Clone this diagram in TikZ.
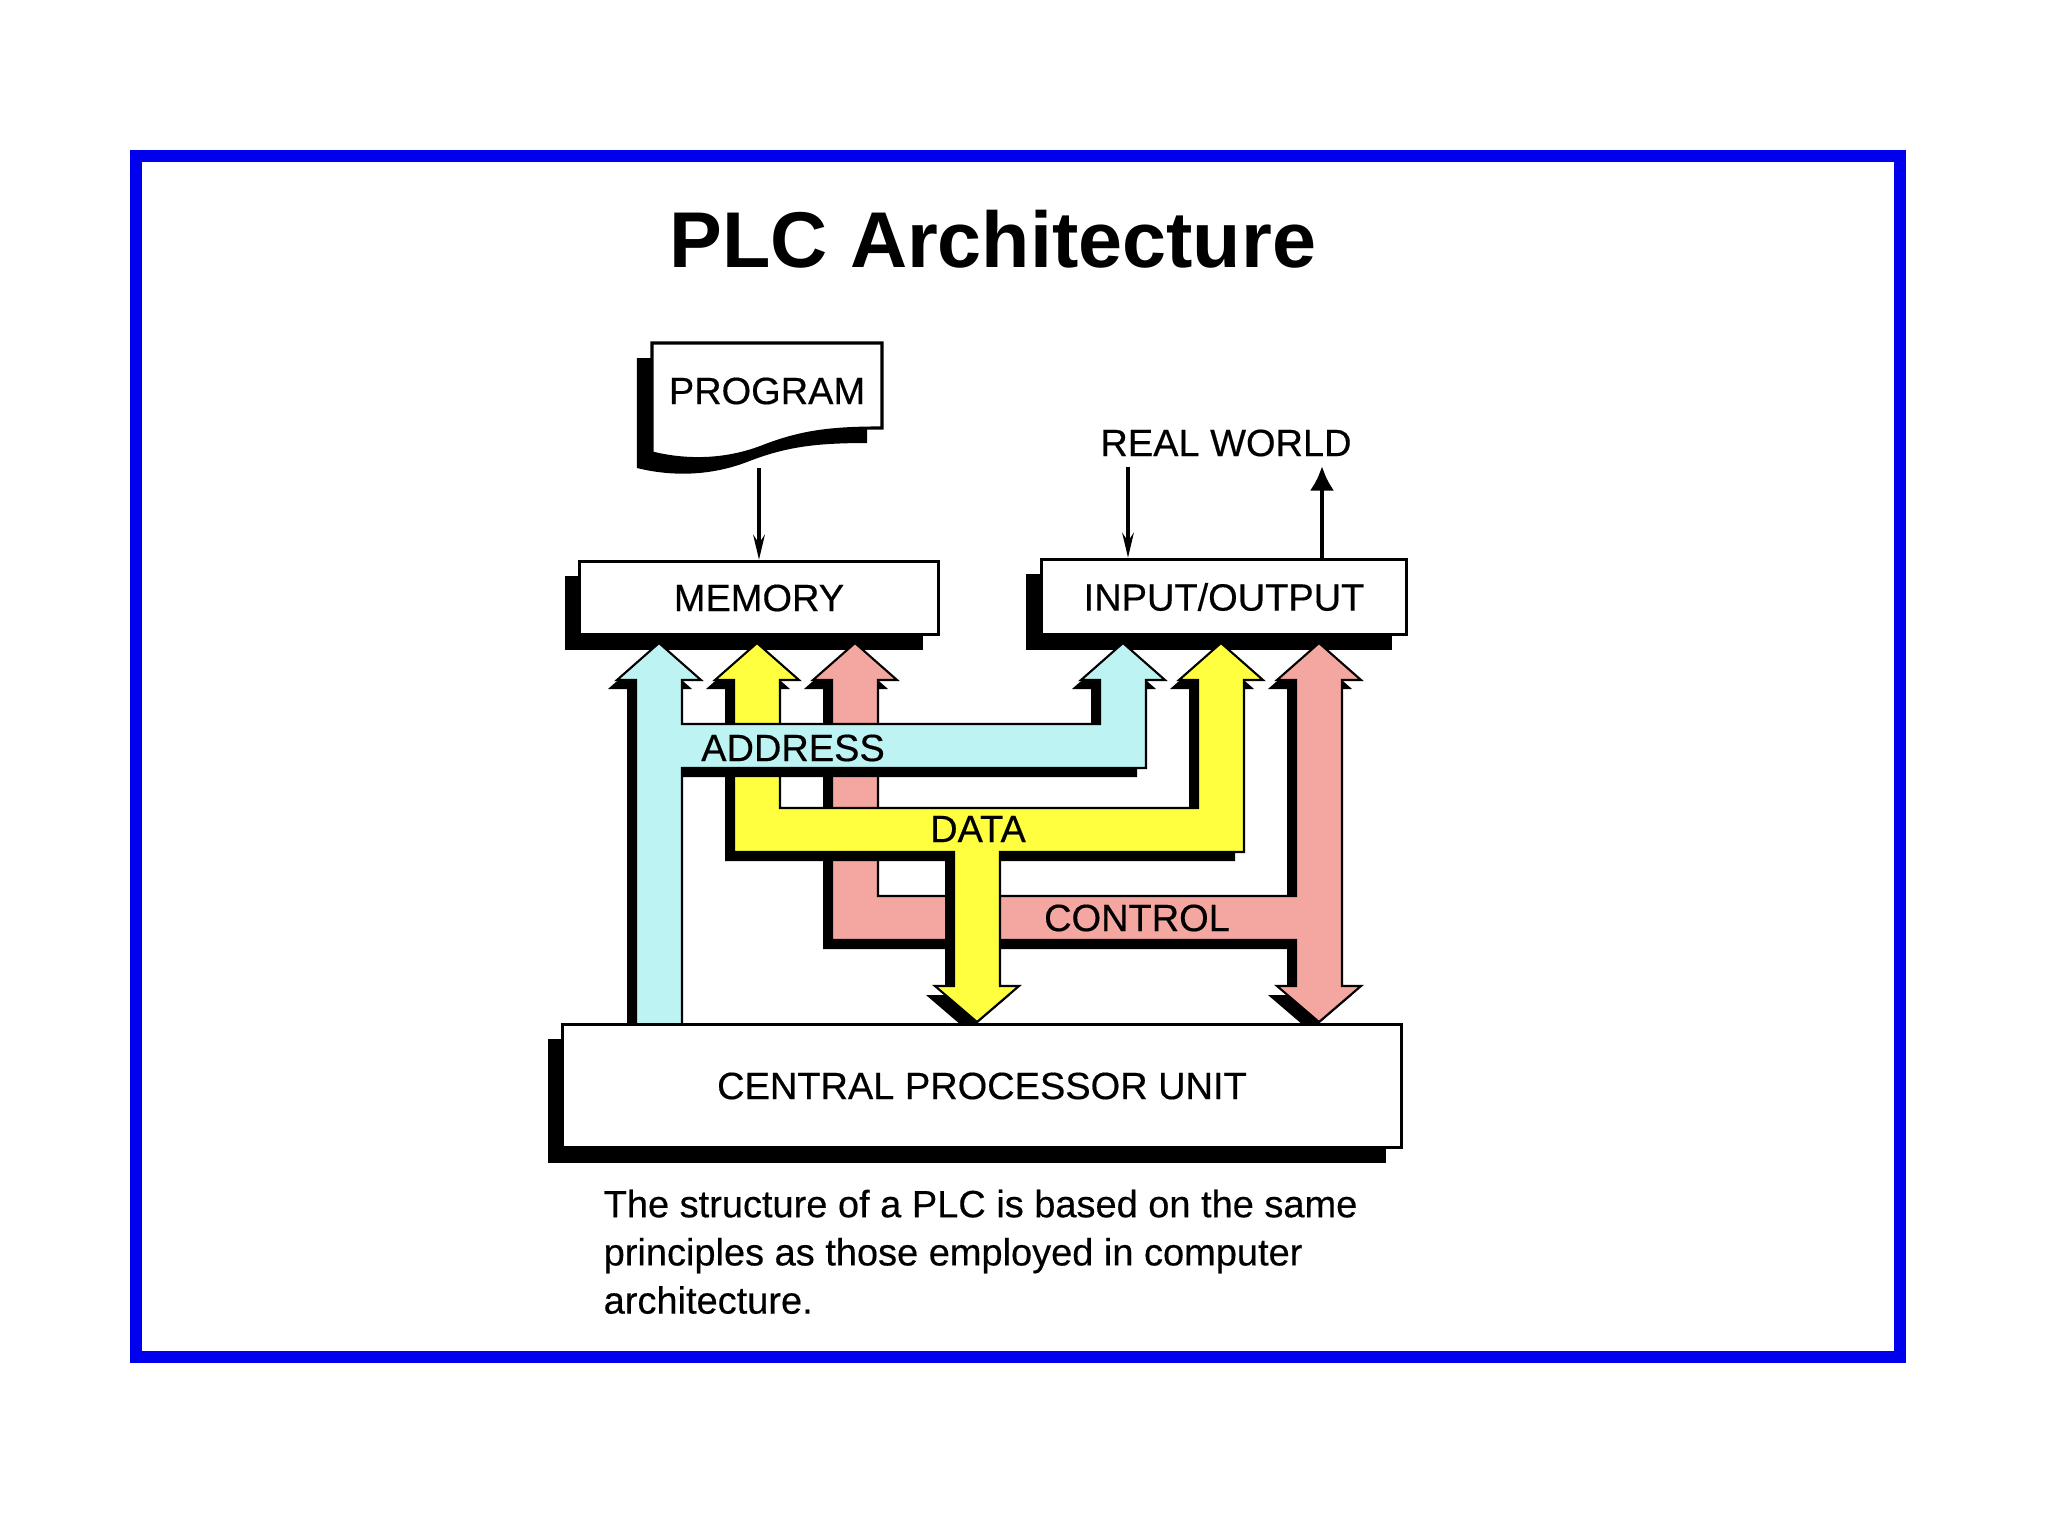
\documentclass[tikz,border=0pt]{standalone}
\usepackage{fontspec}
\setmainfont{Liberation Sans}
\newfontfamily\lblfont[FakeBold=0.4]{Liberation Sans}
\usetikzlibrary{arrows.meta,shadows}
\definecolor{framebl}{HTML}{0000EE}
\definecolor{addrcyan}{HTML}{BDF3F3}
\definecolor{datayel}{HTML}{FFFF40}
\definecolor{ctrlpink}{HTML}{F4A6A0}
\tikzset{
  every picture/.style={line join=miter, >=Stealth},
  lbl/.style={font=\lblfont\fontsize{10.8}{13}\selectfont, inner sep=0pt},
  slab/.style={lbl, draw=black, line width=0.9pt, fill=white,
    drop shadow={shadow xshift=-0.15cm, shadow yshift=-0.15cm, fill=black, opacity=1}},
  bus/.style={draw=black, line width=0.6pt,
    drop shadow={shadow xshift=-0.09cm, shadow yshift=-0.09cm, fill=black, opacity=1}},
  feed/.style={line width=1.2pt, -{Stealth[length=7pt,width=3.2pt]}},
  feedup/.style={line width=1.4pt, -{Latex[length=7pt,width=7pt]}},
}

\begin{document}
\begin{tikzpicture}[x=0.01cm, y=-0.01cm]
\useasboundingbox (0,0) rectangle (2048,1536);
\draw[framebl, line width=0.12cm] (136,156) rectangle (1900,1357);
\node[font=\fontsize{22.5}{27}\selectfont\bfseries] (title) at (993,239) {PLC Architecture};

% program sheet
\path[draw=black, line width=0.9pt, fill=white,
  drop shadow={shadow xshift=-0.15cm, shadow yshift=-0.15cm, fill=black, opacity=1}]
  (652,343) -- (882,343) -- (882,428) .. controls (830,428) and (800,432) .. (762,447)
  .. controls (720,463) and (680,460) .. (652,453) -- cycle;
\node[lbl] (prog) at (767,391) {PROGRAM};
\coordinate (progfoot) at (759,468);

% units
\node[slab, minimum width=3.58cm, minimum height=0.73cm] (mem) at (759,598) {MEMORY};
\node[slab, minimum width=3.65cm, minimum height=0.75cm] (io) at (1224,597) {INPUT/OUTPUT};

\node[lbl] (world) at (1226,443) {REAL WORLD};
\coordinate (worldin) at (1128,467);
\coordinate (worldout) at (1322,466);
\draw[feed] (progfoot) -- (progfoot |- mem.north);
\draw[feed] (worldin) -- (worldin |- io.north);
\draw[feedup] (worldout |- io.north) -- (worldout);

% control bus
\draw[bus, fill=ctrlpink] (832,940) -- (832,680) -- (813,680) -- (855,643) -- (897,680) -- (878,680)
  -- (878,896) -- (1296,896) -- (1296,680) -- (1277,680) -- (1319,643) -- (1361,680) -- (1342,680)
  -- (1342,986) -- (1361,986) -- (1319,1022) -- (1277,986) -- (1296,986) -- (1296,940) -- cycle;
% data bus
\draw[bus, fill=datayel] (734,852) -- (734,680) -- (715,680) -- (757,643) -- (799,680) -- (780,680)
  -- (780,808) -- (1198,808) -- (1198,680) -- (1179,680) -- (1221,643) -- (1263,680) -- (1244,680)
  -- (1244,852) -- (1000,852) -- (1000,986) -- (1019,986) -- (977,1022) -- (935,986) -- (954,986)
  -- (954,852) -- cycle;
% address bus
\draw[bus, fill=addrcyan] (636,1025) -- (636,680) -- (617,680) -- (659,643) -- (701,680) -- (682,680)
  -- (682,724) -- (1100,724) -- (1100,680) -- (1081,680) -- (1123,643) -- (1165,680) -- (1146,680)
  -- (1146,768) -- (682,768) -- (682,1025) -- cycle;

\node[lbl] (addrlbl) at (793,748) {ADDRESS};
\node[lbl] (datalbl) at (978,829) {DATA};
\node[lbl] (ctrllbl) at (1137,918) {CONTROL};

% processor on top of the bus ends
\node[slab, minimum width=8.38cm, minimum height=1.23cm] (cpu) at (982,1086) {CENTRAL PROCESSOR UNIT};

\node[lbl, anchor=north west, align=left, font=\lblfont\fontsize{10.8}{13.7}\selectfont] (caption) at (603,1189)
  {The structure of a PLC is based on the same\\principles as those employed in computer\\architecture.};
\end{tikzpicture}
\end{document}
